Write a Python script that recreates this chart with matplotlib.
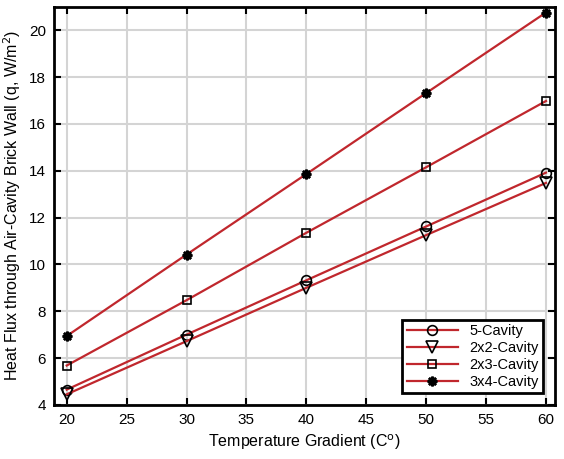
import matplotlib.pyplot as plt

plt.rcParams['font.family'] = ['Liberation Sans', 'DejaVu Sans']

temps = [20, 30, 40, 50, 60]
cav5 = [4.65, 7.0, 9.32, 11.62, 13.92]
cav2x2 = [4.45, 6.72, 9.0, 11.25, 13.48]
cav2x3 = [5.68, 8.47, 11.35, 14.15, 16.98]
cav3x4 = [6.94, 10.42, 13.86, 17.32, 20.76]
labels = ['5-Cavity', '2x2-Cavity', '2x3-Cavity', '3x4-Cavity']

fig = plt.figure(figsize=(5.64, 4.59), dpi=100)
ax = fig.add_axes([0.096, 0.118, 0.888, 0.867])

red = '#c0272d'
series = [cav5, cav2x2, cav2x3, cav3x4]
markers = ['o', 'v', 's', (8, 2, 0)]
sizes = [7, 8, 6, 7]
for y, m, ms, lab in zip(series, markers, sizes, labels):
    ax.plot(temps, y, color=red, linewidth=1.6, marker=m, markersize=ms,
            markerfacecolor='none', markeredgecolor='black',
            markeredgewidth=1.2 if m != (8, 2, 0) else 1.8, label=lab)

ax.set_xlim(18.95, 60.75)
ax.set_ylim(4, 21)
ax.set_xticks(range(20, 61, 5))
ax.set_yticks(range(4, 21, 2))
ax.grid(color='#d4d4d4', linewidth=1.5)
ax.set_axisbelow(True)
ax.tick_params(direction='in', top=True, right=True, labelsize=11, length=5, width=1.5, pad=6)
for s in ax.spines.values():
    s.set_linewidth(2)
ax.set_xlabel('Temperature Gradient (C$^{\\mathrm{o}}$)', fontsize=11.5)
ax.set_ylabel('Heat Flux through Air-Cavity Brick Wall (q, W/m$^{\\mathrm{2}}$)', fontsize=11.5)

leg = ax.legend(loc='lower right', fontsize=10.5, fancybox=False, framealpha=1,
                edgecolor='black', borderaxespad=0.8, handlelength=3.5,
                labelspacing=0.2, borderpad=0.3)
leg.get_frame().set_linewidth(2)

plt.savefig('out.png', dpi=100)
